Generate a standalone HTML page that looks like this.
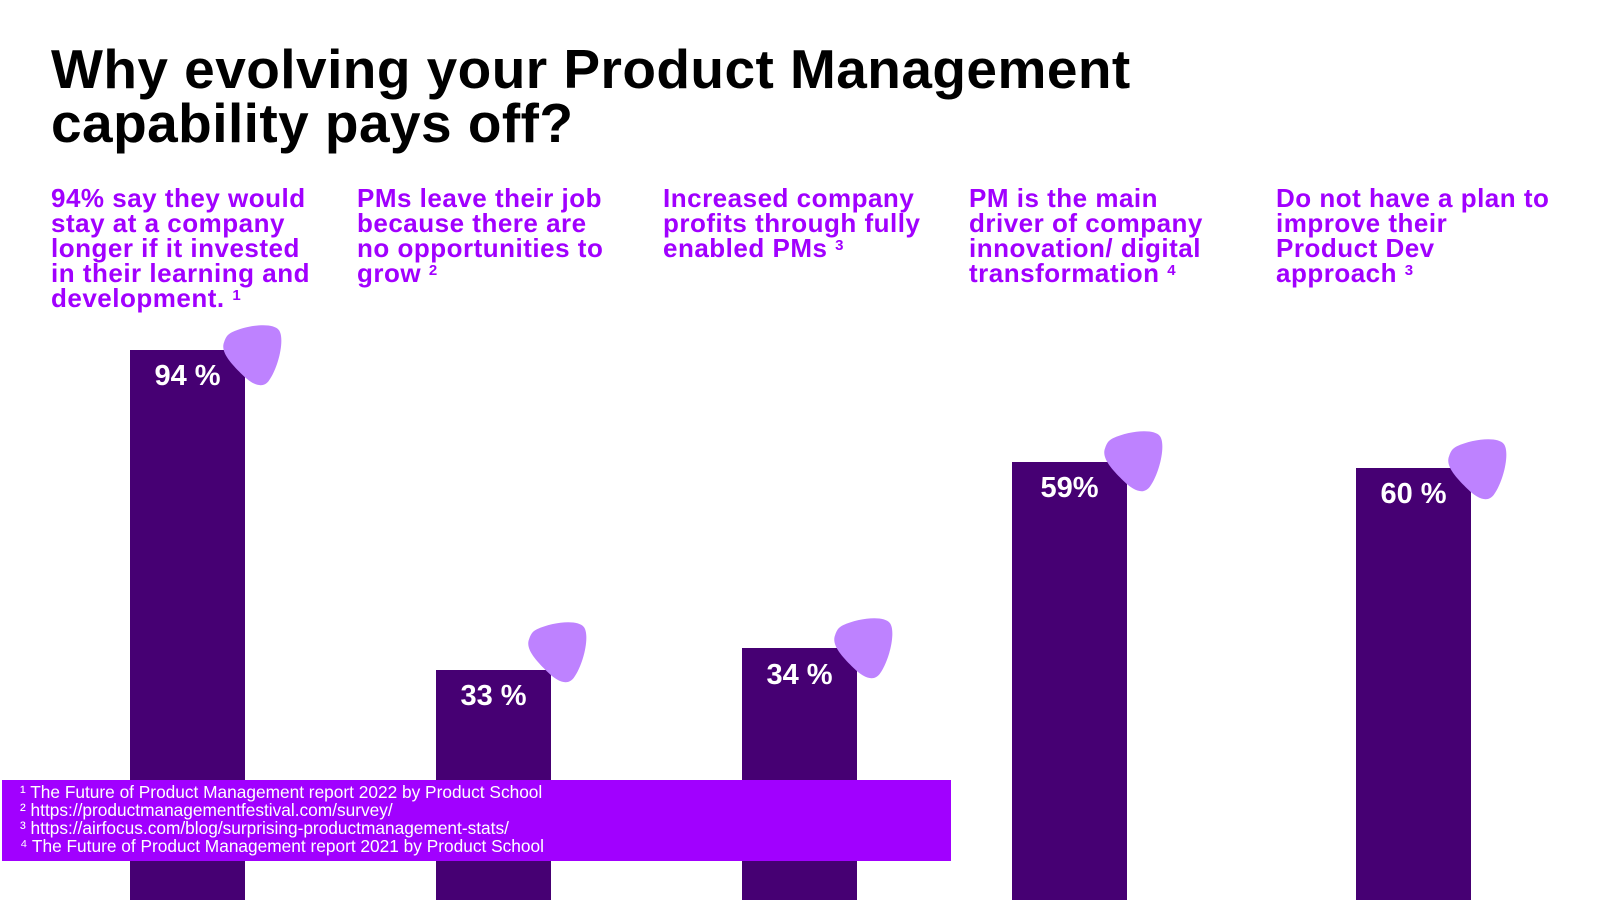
<!DOCTYPE html>
<html><head><meta charset="utf-8"><style>
body{margin:0;width:1600px;height:900px;background:#fff;position:relative;overflow:hidden;font-family:"Liberation Sans",Arial,sans-serif}
h1{position:absolute;left:51px;top:42px;margin:0;font-size:55px;line-height:54px;font-weight:bold;color:#000;letter-spacing:0.45px}
.s{position:absolute;top:186px;font-size:26px;line-height:25px;font-weight:bold;color:#a100ff;letter-spacing:0.5px}
.s sup{font-size:15px;vertical-align:top;position:relative;top:-3px}
.bar{position:absolute;background:#460073;bottom:0;width:115px}
.lab{position:absolute;color:#fff;font-weight:bold;font-size:29px;width:115px;text-align:center}
svg.b{position:absolute;width:61px;height:63px}
.foot{position:absolute;left:2px;top:780px;width:949px;height:81px;background:#a100ff;color:#fff;font-size:17.3px;line-height:18px;padding:3px 0 0 18px;box-sizing:border-box}
</style></head><body>
<h1>Why evolving your Product Management<br>capability pays off?</h1>
<div class="s" style="left:51px">94% say they would<br>stay at a company<br>longer if it invested<br>in their learning and<br>development. <sup>1</sup></div>
<div class="s" style="left:357px">PMs leave their job<br>because there are<br>no opportunities to<br>grow <sup>2</sup></div>
<div class="s" style="left:663px">Increased company<br>profits through fully<br>enabled PMs <sup>3</sup></div>
<div class="s" style="left:969px">PM is the main<br>driver of company<br>innovation/ digital<br>transformation <sup>4</sup></div>
<div class="s" style="left:1276px">Do not have a plan to<br>improve their<br>Product Dev<br>approach <sup>3</sup></div>

<div class="bar" style="left:130px;top:350px"></div>
<div class="bar" style="left:436px;top:670px"></div>
<div class="bar" style="left:742px;top:648px"></div>
<div class="bar" style="left:1012px;top:462px"></div>
<div class="bar" style="left:1356px;top:468px"></div>

<svg class="b" style="left:222px;top:324px" viewBox="0 0 60 62"><path d="M10 8 C25 1 50 -2 56 6 C62 14 56 42 46 56 C40 64 30 60 20 50 C10 40 -2 28 2 18 C4 12 6 10 10 8Z" fill="#be82ff"/></svg>
<svg class="b" style="left:527px;top:621px" viewBox="0 0 60 62"><path d="M10 8 C25 1 50 -2 56 6 C62 14 56 42 46 56 C40 64 30 60 20 50 C10 40 -2 28 2 18 C4 12 6 10 10 8Z" fill="#be82ff"/></svg>
<svg class="b" style="left:833px;top:617px" viewBox="0 0 60 62"><path d="M10 8 C25 1 50 -2 56 6 C62 14 56 42 46 56 C40 64 30 60 20 50 C10 40 -2 28 2 18 C4 12 6 10 10 8Z" fill="#be82ff"/></svg>
<svg class="b" style="left:1103px;top:430px" viewBox="0 0 60 62"><path d="M10 8 C25 1 50 -2 56 6 C62 14 56 42 46 56 C40 64 30 60 20 50 C10 40 -2 28 2 18 C4 12 6 10 10 8Z" fill="#be82ff"/></svg>
<svg class="b" style="left:1447px;top:438px" viewBox="0 0 60 62"><path d="M10 8 C25 1 50 -2 56 6 C62 14 56 42 46 56 C40 64 30 60 20 50 C10 40 -2 28 2 18 C4 12 6 10 10 8Z" fill="#be82ff"/></svg>

<div class="lab" style="left:130px;top:360px">94 %</div>
<div class="lab" style="left:436px;top:680px">33 %</div>
<div class="lab" style="left:742px;top:659px">34 %</div>
<div class="lab" style="left:1012px;top:472px">59%</div>
<div class="lab" style="left:1356px;top:478px">60 %</div>

<div class="foot">¹ The Future of Product Management report 2022 by Product School<br>² https://productmanagementfestival.com/survey/<br>³ https://airfocus.com/blog/surprising-productmanagement-stats/<br>⁴ The Future of Product Management report 2021 by Product School</div>
</body></html>
